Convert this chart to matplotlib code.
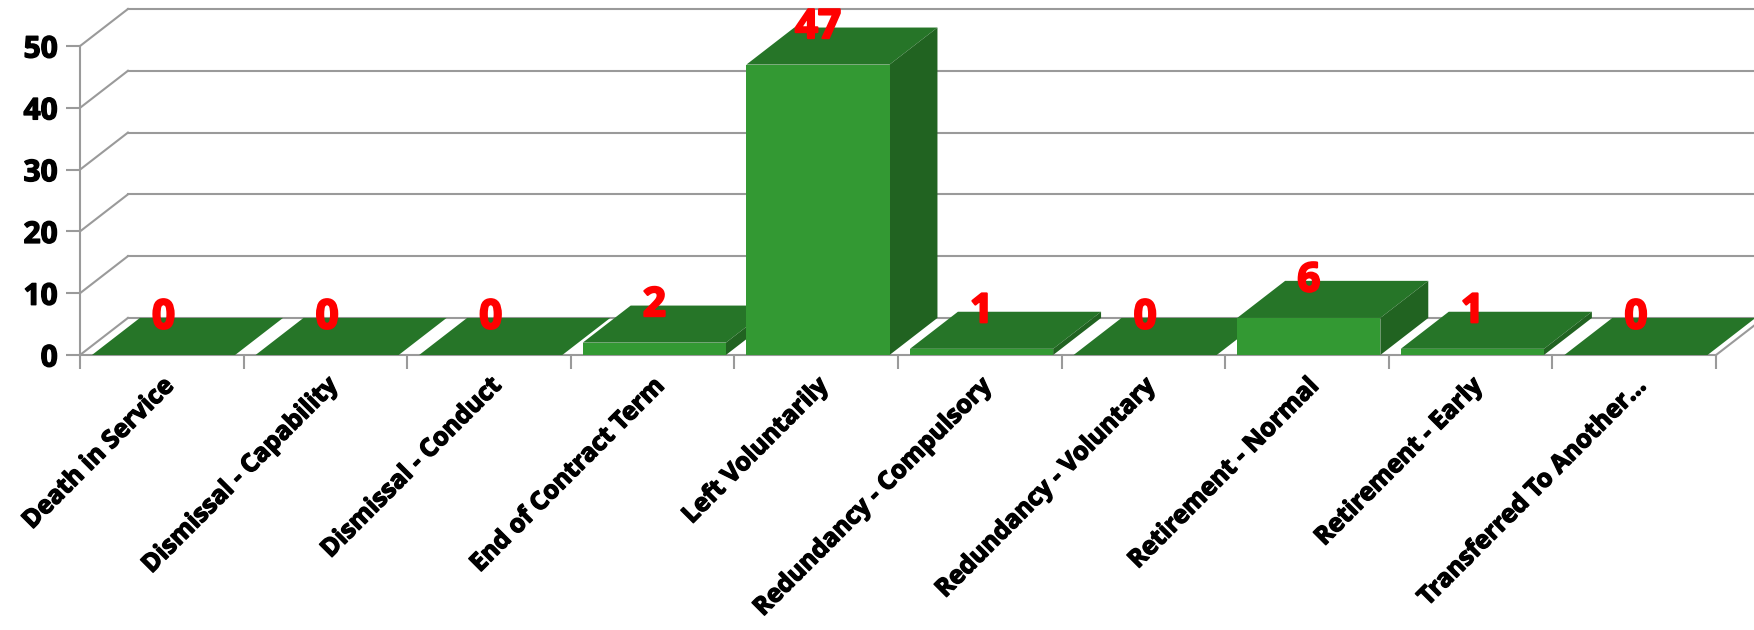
import matplotlib
matplotlib.use('Agg')
import matplotlib.pyplot as plt
import matplotlib.patheffects as pe
from matplotlib.patches import Polygon, Rectangle

kategorie = ['Death in Service', 'Dismissal - Capability', 'Dismissal - Conduct',
             'End of Contract Term', 'Left Voluntarily', 'Redundancy - Compulsory',
             'Redundancy - Voluntary', 'Retirement - Normal', 'Retirement - Early',
             'Transferred To Another...']
wartosci = [0, 0, 0, 2, 47, 1, 0, 6, 1, 0]
y_ticki = [0, 10, 20, 30, 40, 50]

plt.rcParams['font.family'] = ['Open Sans', 'DejaVu Sans']

# przesuniecie "glebi" (pseudo 3D) w jednostkach danych
DX = 0.293
DY = 6.0
szer = 0.875
odstep = 0.073

kol_przod = '#339933'
kol_gora = '#267528'
kol_bok = '#216321'
kol_siatka = '#9a9a9a'

n = len(kategorie)
fig = plt.figure(figsize=(17.54, 6.30), dpi=100)
ax = fig.add_axes([80 / 1754, 275 / 630, 1684 / 1754, 346 / 630])
ax.set_xlim(0, n + DX)
ax.set_ylim(0, max(y_ticki) + DY)
for s in ax.spines.values():
    s.set_visible(False)

# Siatka na tylnej scianie + linie na bocznej scianie
for v in y_ticki:
    ax.plot([DX, n + DX], [v + DY, v + DY], color=kol_siatka, lw=1.5, clip_on=False, zorder=1)
    ax.plot([0, DX], [v, v + DY], color=kol_siatka, lw=1.5, clip_on=False, zorder=1)

# Os pionowa z przodu i podloga
ax.plot([0, 0], [0, max(y_ticki)], color=kol_siatka, lw=1.5, clip_on=False, zorder=1)
ax.plot([0, n], [0, 0], color=kol_siatka, lw=1.5, clip_on=False, zorder=1)
ax.plot([n, n + DX], [0, DY], color=kol_siatka, lw=1.5, clip_on=False, zorder=1)

# pogrubienie tekstu (obrys w kolorze tekstu)
gruby_czarny = [pe.withStroke(linewidth=1.0, foreground='black')]
gruby_czerwony = [pe.withStroke(linewidth=1.6, foreground='red')]

# Slupki
for i, v in enumerate(wartosci):
    x0 = i + odstep
    x1 = x0 + szer
    gora = Polygon([(x0, v), (x1, v), (x1 + DX, v + DY), (x0 + DX, v + DY)],
                   closed=True, facecolor=kol_gora, edgecolor='none', zorder=3 + i)
    bok = Polygon([(x1, 0), (x1 + DX, DY), (x1 + DX, v + DY), (x1, v)],
                  closed=True, facecolor=kol_bok, edgecolor='none', zorder=3 + i)
    ax.add_patch(gora)
    ax.add_patch(bok)
    if v > 0:
        ax.add_patch(Rectangle((x0, 0), szer, v, facecolor=kol_przod, edgecolor='none', zorder=3 + i))
    ax.text(x0 + szer / 2, v + DY, str(v), color='red', fontsize=29, fontweight='bold',
            ha='center', va='center', zorder=20, clip_on=False, path_effects=gruby_czerwony)

# Ticki
ax.set_yticks(y_ticki)
ax.set_yticklabels([str(t) for t in y_ticki], fontsize=21.5, fontweight='bold')
ax.tick_params(axis='y', length=10, width=1.5, color=kol_siatka, pad=6)
for t in ax.get_yticklabels():
    t.set_path_effects(gruby_czarny)

ax.set_xticks(range(n + 1))
ax.set_xticklabels([])
ax.set_xticks([i + 0.5 for i in range(n)], minor=True)
ax.set_xticklabels(kategorie, minor=True, rotation=45, ha='right', rotation_mode='anchor',
                   fontsize=18, fontweight='bold')
for t in ax.get_xticklabels(minor=True):
    t.set_path_effects(gruby_czarny)
ax.tick_params(axis='x', which='major', length=10, width=1.5, color=kol_siatka)
ax.tick_params(axis='x', which='minor', length=0, pad=13)

fig.savefig('out.png', dpi=100)
